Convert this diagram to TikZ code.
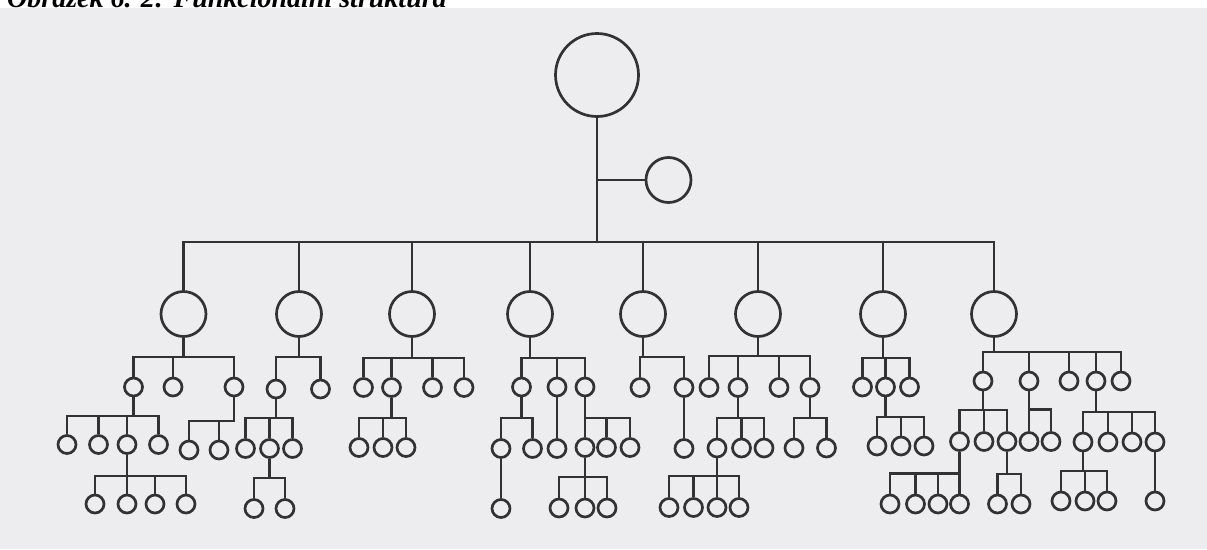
\documentclass[tikz,border=0pt]{standalone}
\usepackage{fontspec}
\setmainfont{Liberation Serif}
\begin{document}
\begin{tikzpicture}[x=1pt,y=-1pt]
\definecolor{paper}{RGB}{237,237,240}
\definecolor{ink}{RGB}{50,50,52}
\tikzset{
  link/.style={draw=ink, line width=2.7pt},
  orb/.style={circle, draw=ink, line width=2.7pt, inner sep=0pt, minimum size=83pt},
  unit/.style={circle, draw=ink, line width=2.7pt, inner sep=0pt, minimum size=45pt},
  leaf/.style={circle, draw=ink, line width=2.7pt, inner sep=0pt, minimum size=18pt},
  caption/.style={anchor=base west, inner sep=0pt, font=\bfseries\itshape\fontsize{28}{30}\selectfont}
}
% parent -> horizontal bus at height #2 -> each child in #3
\newcommand\forks[3]{\foreach \c in {#3}{\draw[link] (#1.south) -- (#1.south |- 0,#2) -| (\c.north);}}
\newcommand\drop[2]{\draw[link] (#1.south) -- (#2.north);}

\clip (0,0) rectangle (1207,549);
\fill[white] (0,0) rectangle (1207,549);
\fill[paper] (0,8) rectangle (1207,549);

\node[caption] (title) at (7,7) {Obrázek 6. 2: Funkcionální struktura};

% head and staff unit
\node[orb] (top) at (597,75) {};
\node[unit] (side) at (668.5,180) {};
\draw[link] (top.south |- side.west) -- (side.west);

% first level
\foreach \n/\x in {a1/183.5,a2/299,a3/412,a4/530,a5/643,a6/758,a7/883,a8/994}
  \node[unit] (\n) at (\x,314) {};
\forks{top}{242}{a1,a2,a3,a4,a5,a6,a7,a8}

% branch a1
\node[leaf] (a1a) at (133.5,387) {};
\node[leaf] (a1b) at (173,387) {};
\node[leaf] (a1c) at (234,387) {};
\forks{a1}{357}{a1a,a1b,a1c}
\node[leaf] (a1aa) at (67,444.5) {};
\node[leaf] (a1ab) at (98.5,444.5) {};
\node[leaf] (a1ac) at (127,444.5) {};
\node[leaf] (a1ad) at (158.5,444.5) {};
\forks{a1a}{416}{a1aa,a1ab,a1ac,a1ad}
\node[leaf] (a1aca) at (95,504) {};
\node[leaf] (a1acb) at (127,504) {};
\node[leaf] (a1acc) at (155,504) {};
\node[leaf] (a1acd) at (186,504) {};
\forks{a1ac}{476}{a1aca,a1acb,a1acc,a1acd}
\node[leaf] (a1ca) at (189,450) {};
\node[leaf] (a1cb) at (219,450) {};
\forks{a1c}{421}{a1ca,a1cb}

% branch a2
\node[leaf] (a2a) at (276,389) {};
\node[leaf] (a2b) at (320.5,389) {};
\forks{a2}{357}{a2a,a2b}
\node[leaf] (a2aa) at (245.5,448.5) {};
\node[leaf] (a2ab) at (269.5,448.5) {};
\node[leaf] (a2ac) at (292.5,448.5) {};
\forks{a2a}{418}{a2aa,a2ab,a2ac}
\node[leaf] (a2aba) at (254,508.5) {};
\node[leaf] (a2abb) at (285,508.5) {};
\forks{a2ab}{478}{a2aba,a2abb}

% branch a3
\node[leaf] (a3a) at (363.5,387.5) {};
\node[leaf] (a3b) at (391.5,387.5) {};
\node[leaf] (a3c) at (432.5,387.5) {};
\node[leaf] (a3d) at (464,387.5) {};
\forks{a3}{358}{a3a,a3b,a3c,a3d}
\node[leaf] (a3ba) at (359,447.5) {};
\node[leaf] (a3bb) at (383,447.5) {};
\node[leaf] (a3bc) at (406,447.5) {};
\forks{a3b}{418}{a3ba,a3bb,a3bc}

% branch a4
\node[leaf] (a4a) at (521.5,387) {};
\node[leaf] (a4b) at (557,387) {};
\node[leaf] (a4c) at (585,387) {};
\forks{a4}{358}{a4a,a4b,a4c}
\node[leaf] (a4aa) at (501,448.5) {};
\node[leaf] (a4ab) at (532.5,448.5) {};
\forks{a4a}{418}{a4aa,a4ab}
\node[leaf] (a4aaa) at (501,508.5) {};
\drop{a4aa}{a4aaa}
\node[leaf] (a4ba) at (557,448.5) {};
\drop{a4b}{a4ba}
\node[leaf] (a4ca) at (585,447.5) {};
\node[leaf] (a4cb) at (606.5,447.5) {};
\node[leaf] (a4cc) at (630,447.5) {};
\forks{a4c}{418}{a4ca,a4cb,a4cc}
\node[leaf] (a4caa) at (559,508) {};
\node[leaf] (a4cab) at (585,508) {};
\node[leaf] (a4cac) at (607,508) {};
\forks{a4ca}{477}{a4caa,a4cab,a4cac}

% branch a5
\node[leaf] (a5a) at (640,387.5) {};
\node[leaf] (a5b) at (684,387.5) {};
\forks{a5}{357}{a5a,a5b}
\node[leaf] (a5ba) at (684,448.5) {};
\drop{a5b}{a5ba}

% branch a6
\node[leaf] (a6a) at (709,387.5) {};
\node[leaf] (a6b) at (738,387.5) {};
\node[leaf] (a6c) at (779,387.5) {};
\node[leaf] (a6d) at (810,387.5) {};
\forks{a6}{356}{a6a,a6b,a6c,a6d}
\node[leaf] (a6ba) at (717,448) {};
\node[leaf] (a6bb) at (741.5,448) {};
\node[leaf] (a6bc) at (764,448) {};
\forks{a6b}{418}{a6ba,a6bb,a6bc}
\node[leaf] (a6baa) at (669,507.5) {};
\node[leaf] (a6bab) at (693.5,507.5) {};
\node[leaf] (a6bac) at (717,507.5) {};
\node[leaf] (a6bad) at (739,507.5) {};
\forks{a6ba}{476}{a6baa,a6bab,a6bac,a6bad}
\node[leaf] (a6da) at (794,448) {};
\node[leaf] (a6db) at (826.5,448) {};
\forks{a6d}{418}{a6da,a6db}

% branch a7
\node[leaf] (a7a) at (862.5,387) {};
\node[leaf] (a7b) at (885.5,387) {};
\node[leaf] (a7c) at (909.5,387) {};
\forks{a7}{358}{a7a,a7b,a7c}
\node[leaf] (a7ba) at (877,446) {};
\node[leaf] (a7bb) at (901,446) {};
\node[leaf] (a7bc) at (924,446) {};
\forks{a7b}{417}{a7ba,a7bb,a7bc}

% branch a8
\node[leaf] (a8a) at (983,381) {};
\node[leaf] (a8b) at (1029,381) {};
\node[leaf] (a8c) at (1069,381) {};
\node[leaf] (a8d) at (1096,381) {};
\node[leaf] (a8e) at (1121,381) {};
\forks{a8}{352}{a8a,a8b,a8c,a8d,a8e}
\node[leaf] (a8aa) at (959.5,441.5) {};
\node[leaf] (a8ab) at (984,441.5) {};
\node[leaf] (a8ac) at (1007,441.5) {};
\forks{a8a}{410}{a8aa,a8ab,a8ac}
\node[leaf] (a8aaa) at (890,504) {};
\node[leaf] (a8aab) at (915.5,504) {};
\node[leaf] (a8aac) at (938,504) {};
\node[leaf] (a8aad) at (959.5,504) {};
\forks{a8aa}{473.5}{a8aaa,a8aab,a8aac,a8aad}
\node[leaf] (a8aca) at (997.5,504) {};
\node[leaf] (a8acb) at (1021,504) {};
\forks{a8ac}{474}{a8aca,a8acb}
\node[leaf] (a8ba) at (1029,441.5) {};
\node[leaf] (a8bb) at (1051,441.5) {};
\forks{a8b}{409.5}{a8ba,a8bb}
\node[leaf] (a8da) at (1083,442) {};
\node[leaf] (a8db) at (1108,442) {};
\node[leaf] (a8dc) at (1132,442) {};
\node[leaf] (a8dd) at (1155,442) {};
\forks{a8d}{412}{a8da,a8db,a8dc,a8dd}
\node[leaf] (a8daa) at (1061,501) {};
\node[leaf] (a8dab) at (1085,501) {};
\node[leaf] (a8dac) at (1107,501) {};
\forks{a8da}{471}{a8daa,a8dab,a8dac}
\node[leaf] (a8dda) at (1155,501) {};
\drop{a8dd}{a8dda}
\end{tikzpicture}
\end{document}
